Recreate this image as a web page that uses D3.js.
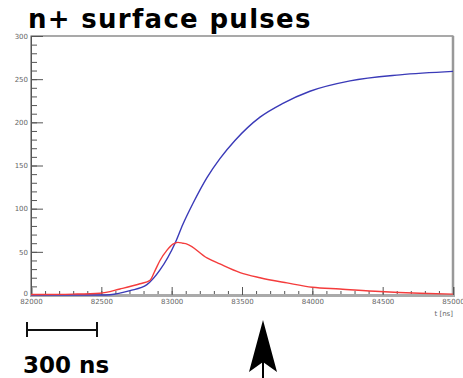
<!DOCTYPE html>
<html>
<head>
<meta charset="utf-8">
<script src="https://cdn.jsdelivr.net/npm/d3@7"></script>
<style>
  body { margin: 0; background: #fff; }
  .tick text { fill: #666; }
</style>
</head>
<body>
<svg id="chart"></svg>
<script>
const svgWidth = 463, svgHeight = 378;
const margin = {top: 36, right: 10, bottom: 83, left: 31},
    width = svgWidth - margin.left - margin.right,
    height = svgHeight - margin.top - margin.bottom;

// t [ns] vs amplitude
const blueT = [82000, 82500, 82561, 82704, 82824, 82917, 83024, 83080, 83151, 83251, 83343, 83450, 83628, 83791, 83983, 84268, 84623, 85000];
const blueV = [0, 0, 0.3, 5, 12, 29, 60, 82, 106, 136, 158, 179, 206, 222, 236, 248, 255, 259];
const redT = [82000, 82300, 82490, 82633, 82775, 82846, 82881, 82917, 82967, 83009, 83045, 83080, 83109, 83251, 83343, 83486, 83628, 83820, 84000, 84196, 84480, 84765, 85000];
const redV = [0.5, 1, 2, 7, 13, 17, 28, 40, 52, 59, 61, 60, 59, 43, 36, 26, 20, 14, 9, 7, 4, 2, 1];

const xTicks = [82000, 82500, 83000, 83500, 84000, 84500, 85000];
const yTicks = [0, 50, 100, 150, 200, 250, 300];

const chart = d3.select('#chart')
    .attr("width", svgWidth)
    .attr("height", svgHeight);

// title
chart.append("text")
    .attr("x", 28).attr("y", 28)
    .style("font-family", "DejaVu Sans")
    .style("font-weight", "bold")
    .style("font-size", "26px")
    .style("letter-spacing", "1.3px")
    .text("n+ surface pulses");

const g = chart.append("g")
    .attr("transform", "translate(" + margin.left + "," + margin.top + ")");

var xScale = d3.scaleLinear().domain([82000, 85000]).range([0, width]);
var yScale = d3.scaleLinear().domain([0, 300]).range([height, 0]);

// frame
g.append("rect")
    .attr("width", width).attr("height", height)
    .attr("fill", "none").attr("stroke", "#555").attr("stroke-width", 1);
g.append("line")
    .attr("x1", width).attr("x2", width).attr("y1", 0).attr("y2", height)
    .attr("stroke", "#999").attr("stroke-width", 2.5);

// minor ticks
g.append("g")
    .call(d3.axisLeft(yScale).ticks(30).tickSize(-6).tickFormat(""))
    .call(s => s.select(".domain").remove())
    .selectAll("line").attr("stroke", "#555");
g.append("g")
    .attr("transform", "translate(0," + height + ")")
    .call(d3.axisBottom(xScale).ticks(30).tickSize(-4).tickFormat(""))
    .call(s => s.select(".domain").remove())
    .selectAll("line").attr("stroke", "#555");

// major ticks + labels
var yAxis = g.append("g")
    .call(d3.axisLeft(yScale).tickValues(yTicks).tickSize(-12).tickPadding(3).tickFormat(d3.format("d")));
yAxis.select(".domain").attr("stroke", "#555");
yAxis.selectAll("line").attr("stroke", "#555");
yAxis.selectAll("text").style("font-family", "DejaVu Sans").style("font-size", "7px")
    .attr("dy", (d) => d === 0 ? "0.1em" : "0.32em");

var xAxis = g.append("g")
    .attr("transform", "translate(0," + height + ")")
    .call(d3.axisBottom(xScale).tickValues(xTicks).tickSize(-8).tickPadding(4).tickFormat(d3.format("d")));
xAxis.select(".domain").attr("stroke", "#aaa").attr("stroke-width", 3);
xAxis.selectAll("line").attr("stroke", "#555");
xAxis.selectAll("text").style("font-family", "DejaVu Sans").style("font-size", "7px");

g.append("text")
    .attr("x", width).attr("y", height + 21)
    .attr("text-anchor", "end")
    .style("font-family", "DejaVu Sans").style("font-size", "7px")
    .attr("fill", "#666")
    .text("t [ns]");

// curves
var line = d3.line()
    .x(d => xScale(d[0]))
    .y(d => yScale(d[1]))
    .curve(d3.curveMonotoneX);

g.append("path")
    .datum(blueT.map((t, i) => [t, blueV[i]]))
    .attr("d", line)
    .attr("fill", "none").attr("stroke", "#3a3ab8").attr("stroke-width", 1.4);

g.append("path")
    .datum(redT.map((t, i) => [t, redV[i]]))
    .attr("d", line)
    .attr("fill", "none").attr("stroke", "#f43c3c").attr("stroke-width", 1.4);

// scale bar
const bar = chart.append("g").attr("stroke", "#111").attr("stroke-width", 2);
bar.append("line").attr("x1", 27).attr("x2", 97).attr("y1", 330).attr("y2", 330);
bar.append("line").attr("x1", 27).attr("x2", 27).attr("y1", 322).attr("y2", 337);
bar.append("line").attr("x1", 97).attr("x2", 97).attr("y1", 322).attr("y2", 337);

chart.append("text")
    .attr("x", 23).attr("y", 373)
    .style("font-family", "DejaVu Sans")
    .style("font-weight", "bold")
    .style("font-size", "23px")
    .text("300 ns");

// arrow
chart.append("line")
    .attr("x1", 263).attr("x2", 263).attr("y1", 355).attr("y2", 378)
    .attr("stroke", "#000").attr("stroke-width", 2);
chart.append("path")
    .attr("d", "M263,320 L277,372 L263,362 L249,372 Z")
    .attr("fill", "#000");
</script>
</body>
</html>
